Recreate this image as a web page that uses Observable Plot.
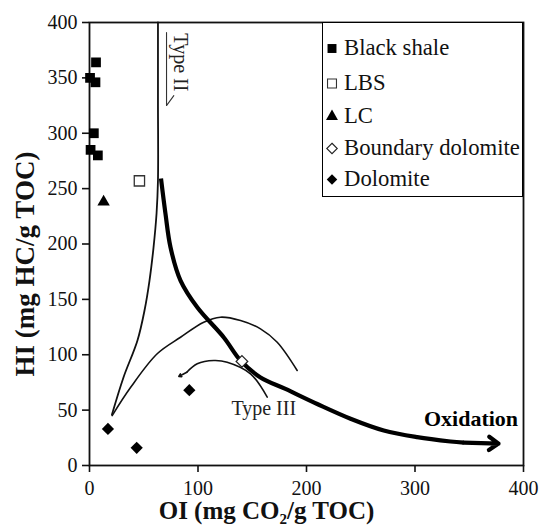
<!DOCTYPE html>
<html><head><meta charset="utf-8">
<script src="https://cdn.jsdelivr.net/npm/d3@7"></script>
<script src="https://cdn.jsdelivr.net/npm/@observablehq/plot@0.6"></script>
<style>
body{margin:0;background:#fff;font-family:"Liberation Serif","Times New Roman",serif}
#wrap{position:relative;width:540px;height:526px}
#legend{position:absolute;left:322px;top:22px;width:199px;height:173px;border:1.5px solid #000;background:#fff}
.row{position:absolute;left:0;height:30px;display:flex;align-items:center;font-size:22.7px;color:#111;white-space:nowrap}
.row svg{margin-left:1px;margin-right:4px}
</style>
</head><body><div id="wrap"></div>
<script>
// ---- data ----
const xTicks = [0, 100, 200, 300, 400];
const yTicks = [0, 50, 100, 150, 200, 250, 300, 350, 400];
const legendLabels = ["Black shale", "LBS", "LC", "Boundary dolomite", "Dolomite"];

const blackShaleOI = [6, 0.5, 5.5, 4, 1, 7.7];
const blackShaleHI = [364, 350, 346, 300, 285, 280];
const lbsOI = [46];
const lbsHI = [257];
const lcOI = [13];
const lcHI = [238];
const boundaryOI = [140.5];
const boundaryHI = [94];
const dolomiteOI = [17, 43.5, 92];
const dolomiteHI = [33, 16, 68];

// Type II pathway curve
const typeIIOI = [20.7, 31.3, 44.2, 50.7, 55.3, 59, 61.8, 63.1, 63.1, 63.1];
const typeIIHI = [46, 79.5, 112.9, 140, 167, 196.8, 227.5, 257.3, 329.6, 400];
// Type III outer curve
const typeIIIOI = [20.9, 37.8, 62.4, 83.9, 105.3, 120.7, 139.2, 157.6, 173, 191.4];
const typeIIIHI = [45.1, 70.4, 100.9, 115.8, 129.4, 133.9, 130.9, 123.4, 111.3, 85.8];
// Type III inner arrow curve
const typeIIIArrowOI = [163.8, 148.4, 126.9, 114.6, 99.3, 89.7];
const typeIIIArrowHI = [61.7, 82.8, 93.3, 94.8, 91.8, 84.2];
const typeIIIArrowTip = [82.3, 80.4];
// Oxidation curve (thick)
const oxidationOI = [65.9, 70, 74.7, 83.9, 99.3, 123.8, 139.2, 157.6, 180.6, 209.9, 240.6, 271.2, 302, 332.7, 345];
const oxidationHI = [259.1, 227.5, 196.8, 167, 142.9, 115.6, 94.8, 79.5, 69.1, 55.5, 42.2, 31.6, 25.6, 21.7, 20.6];
const oxidationTip = [377, 19.8];
// Type II half-arrow next to label
const typeIIMarkOI = [71, 71, 77.7];
const typeIIMarkHI = [391, 325, 334];

const labelTexts = ["Type II", "Type III", "Oxidation"];
const labelOI = [83.9, 160.6, 351.6];
const labelHI = [364, 51.2, 42.4];

const xTitle = "OI (mg CO\u2082/g TOC)";
const yTitle = "HI (mg HC/g TOC)";

// ---- build tables ----
const zip = (xs, ys) => xs.map((x, i) => ({oi: x, hi: ys[i]}));
const blackShale = zip(blackShaleOI, blackShaleHI);
const lbs = zip(lbsOI, lbsHI);
const lc = zip(lcOI, lcHI);
const boundary = zip(boundaryOI, boundaryHI);
const dolomite = zip(dolomiteOI, dolomiteHI);
const typeII = zip(typeIIOI, typeIIHI);
const typeIII = zip(typeIIIOI, typeIIIHI);
const typeIIIArrow = zip(typeIIIArrowOI, typeIIIArrowHI);
const oxidation = zip(oxidationOI, oxidationHI);
const typeIIMark = zip(typeIIMarkOI, typeIIMarkHI);
const labels = labelTexts.map((t, i) => ({t, oi: labelOI[i], hi: labelHI[i]}));

const last = a => a[a.length - 1];

const chart = Plot.plot({
  width: 540, height: 526,
  marginLeft: 89, marginRight: 17, marginTop: 22, marginBottom: 61,
  style: {fontFamily: "'Liberation Serif','Times New Roman',serif", fontSize: "20px", color: "#111", background: "#fff"},
  x: {domain: [0, 400]},
  y: {domain: [0, 400]},
  marks: [
    Plot.axisX({ticks: xTicks, tickSize: 7, tickPadding: 8, fontSize: 20, strokeWidth: 1.6, label: null}),
    Plot.axisY({ticks: yTicks, tickSize: 7, tickPadding: 5, fontSize: 20, strokeWidth: 1.6, label: null}),
    Plot.frame({stroke: "#111", strokeWidth: 1.8}),
    // curves
    Plot.line(typeII, {x: "oi", y: "hi", curve: "catmull-rom", stroke: "#111", strokeWidth: 1.8}),
    Plot.line(typeIII, {x: "oi", y: "hi", curve: "catmull-rom", stroke: "#111", strokeWidth: 1.6}),
    Plot.line(typeIIIArrow, {x: "oi", y: "hi", curve: "catmull-rom", stroke: "#111", strokeWidth: 1.6}),
    Plot.arrow([0], {x1: () => last(typeIIIArrowOI), y1: () => last(typeIIIArrowHI), x2: () => typeIIIArrowTip[0], y2: () => typeIIIArrowTip[1], stroke: "#111", strokeWidth: 1.6, headLength: 13, headAngle: 60}),
    Plot.line(oxidation, {x: "oi", y: "hi", curve: "catmull-rom", stroke: "#000", strokeWidth: 4.2, strokeLinecap: "butt"}),
    Plot.arrow([0], {x1: () => last(oxidationOI), y1: () => last(oxidationHI), x2: () => oxidationTip[0], y2: () => oxidationTip[1], stroke: "#000", strokeWidth: 4.2, headLength: 21, headAngle: 70}),
    Plot.line(typeIIMark, {x: "oi", y: "hi", stroke: "#333", strokeWidth: 1.1}),
    // points
    Plot.dot(blackShale, {x: "oi", y: "hi", symbol: "square", r: 5.5, fill: "#000"}),
    Plot.dot(lbs, {x: "oi", y: "hi", symbol: "square", r: 5.8, fill: "#fff", stroke: "#333", strokeWidth: 1.3}),
    Plot.dot(lc, {x: "oi", y: "hi", symbol: "triangle", r: 4.6, fill: "#000"}),
    Plot.dot(boundary, {x: "oi", y: "hi", symbol: "diamond2", r: 5.2, fill: "#fff", stroke: "#222", strokeWidth: 1.3}),
    Plot.dot(dolomite, {x: "oi", y: "hi", symbol: "diamond2", r: 5.5, fill: "#000"}),
    // labels
    Plot.text(labels.slice(0, 1), {x: "oi", y: "hi", text: "t", rotate: 90, fontSize: 20, fill: "#222"}),
    Plot.text(labels.slice(1, 2), {x: "oi", y: "hi", text: "t", fontSize: 20, fill: "#222"}),
    Plot.text(labels.slice(2, 3), {x: "oi", y: "hi", text: "t", fontSize: 22, fontWeight: "bold", fill: "#000"}),
    // axis titles
    Plot.text([xTitle], {frameAnchor: "bottom", textAnchor: "middle", lineAnchor: "middle", dx: -40, dy: 45, text: d => d, fontSize: 25, fontWeight: "bold", fill: "#111"}),
    Plot.text([yTitle], {frameAnchor: "left", textAnchor: "middle", lineAnchor: "middle", dx: -64, dy: 20, rotate: -90, text: d => d, fontSize: 27, fontWeight: "bold", fill: "#111"})
  ]
});

const wrap = document.getElementById("wrap");
wrap.appendChild(chart);

// ---- legend overlay ----
const legend = document.createElement("div");
legend.id = "legend";
const legendSymbols = [
  {type: d3.symbolSquare, size: 80, fill: "#000", stroke: "none"},
  {type: d3.symbolSquare, size: 80, fill: "#fff", stroke: "#333"},
  {type: d3.symbolTriangle, size: 62, fill: "#000", stroke: "none"},
  {type: d3.symbolDiamond2, size: 70, fill: "#fff", stroke: "#222"},
  {type: d3.symbolDiamond2, size: 70, fill: "#000", stroke: "none"}
];
const rowCenters = [24.7, 59.7, 93, 124.7, 156.3];
legendLabels.forEach((lab, i) => {
  const row = document.createElement("div");
  row.className = "row";
  row.style.top = (rowCenters[i] - 15) + "px";
  const s = legendSymbols[i];
  const svg = d3.create("svg").attr("width", 16).attr("height", 16);
  svg.append("path").attr("transform", "translate(8,8.5)")
    .attr("d", d3.symbol(s.type, s.size)())
    .attr("fill", s.fill).attr("stroke", s.stroke).attr("stroke-width", 1.1);
  row.appendChild(svg.node());
  const span = document.createElement("span");
  span.textContent = lab;
  row.appendChild(span);
  legend.appendChild(row);
});
wrap.appendChild(legend);
</script>
</body></html>
